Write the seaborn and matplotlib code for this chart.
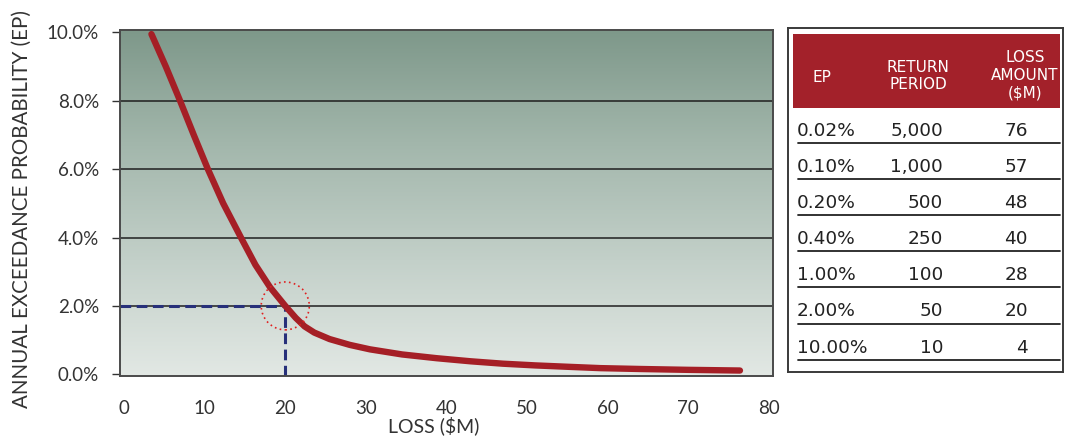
import numpy as np
import pandas as pd
import matplotlib
matplotlib.use("Agg")
import matplotlib.pyplot as plt
import seaborn as sns
from matplotlib.patches import Ellipse, Rectangle
from matplotlib.colors import LinearSegmentedColormap

# ---- data ----
curve_loss = [3.4, 5.2, 6.95, 8.65, 10.4, 12.3, 14.5, 16.3, 18.1, 20.0, 21.3, 22.4,
              23.6, 25.5, 28.0, 30.5, 34.5, 38.8, 43.0, 47.0, 51.0, 55.0, 59.1,
              64.0, 70.0, 76.4]
curve_ep = [9.95, 8.99, 8.0, 7.0, 6.0, 5.0, 4.0, 3.2, 2.55, 2.0, 1.65, 1.4,
            1.22, 1.03, 0.86, 0.73, 0.58, 0.47, 0.38, 0.31, 0.26, 0.22, 0.18,
            0.155, 0.13, 0.11]

highlight_loss = 20
highlight_ep = 2.0

x_ticks = [0, 10, 20, 30, 40, 50, 60, 70, 80]
y_ticks = [0, 2, 4, 6, 8, 10]
grid_levels = [2, 4, 6, 8]

table_headers = ["EP", "RETURN\nPERIOD", "LOSS\nAMOUNT\n($M)"]
table_ep = ["0.02%", "0.10%", "0.20%", "0.40%", "1.00%", "2.00%", "10.00%"]
table_rp = ["5,000", "1,000", "500", "250", "100", "50", "10"]
table_loss = [76, 57, 48, 40, 28, 20, 4]

# ---- style ----
sns.set_theme(style="white")
plt.rcParams["font.family"] = ["Lato", "DejaVu Sans"]

W, H = 1068, 445
fig = plt.figure(figsize=(W / 100, H / 100), dpi=100)
fig.patch.set_facecolor("white")

ax = fig.add_axes([120 / W, (H - 376) / H, (773 - 120) / W, (376 - 30) / H])
xlim = (-0.5, 80.5)
ylim = (-0.05, 10.07)
ax.set_xlim(*xlim)
ax.set_ylim(*ylim)

# gradient background
cmap = LinearSegmentedColormap.from_list(
    "bg", ["#e2e8e4", "#c3d0c9", "#a3b7ac", "#7e988a"])
grad = np.linspace(0, 1, 256).reshape(-1, 1)
ax.imshow(grad, cmap=cmap, origin="lower", aspect="auto",
          extent=[xlim[0], xlim[1], ylim[0], ylim[1]], zorder=0)

for g in grid_levels:
    ax.axhline(g, color="#1f1f1f", lw=1.1, zorder=1)

# dashed guide lines
ax.plot([xlim[0], highlight_loss], [highlight_ep, highlight_ep], color="#27307a",
        lw=2.2, dashes=(3.5, 1.8), zorder=2)
ax.plot([highlight_loss, highlight_loss], [ylim[0], highlight_ep], color="#27307a",
        lw=2.2, dashes=(3.5, 1.8), zorder=2)

df = pd.DataFrame({"loss": curve_loss, "ep": curve_ep})
sns.lineplot(data=df, x="loss", y="ep", ax=ax, color="#a51f26", lw=4.6,
             sort=False, zorder=3, solid_capstyle="round", solid_joinstyle="round")

# dotted red circle (48 px diameter)
ax.add_patch(Ellipse((highlight_loss, highlight_ep), width=48 / 8.06, height=48 / 34.25,
                     fill=False, edgecolor="#e02020", lw=1.2, ls=(0, (1, 2)), zorder=4))

ax.set_xticks(x_ticks)
ax.set_yticks(y_ticks)
ax.set_yticklabels([f"{v:.1f}%" for v in y_ticks])
ax.tick_params(axis="y", length=6, width=1.0, color="#333333", direction="out",
               pad=9, labelsize=13.5, labelcolor="#333333", left=True)
ax.tick_params(axis="x", length=0, pad=17, labelsize=13.5, labelcolor="#333333")
for s in ax.spines.values():
    s.set_color("#4a4a4a")
    s.set_linewidth(1.4)
    s.set_zorder(5)

ax.set_xlabel("LOSS ($M)", fontsize=14, color="#333333")
ax.set_ylabel("ANNUAL EXCEEDANCE PROBABILITY (EP)", fontsize=14.8, color="#333333")
ax.xaxis.set_label_coords((434 - 120) / 653, (376 - 416) / 346)
ax.yaxis.set_label_coords((32 - 120) / 653, (376 - 209) / 346)

# ---- table ----
tx = fig.add_axes([788 / W, (H - 372) / H, (1063 - 788) / W, (372 - 28) / H])
tx.set_xlim(788, 1063)
tx.set_ylim(372, 28)
tx.set_xticks([])
tx.set_yticks([])
tx.set_facecolor("white")
for s in tx.spines.values():
    s.set_color("#3a3a3a")
    s.set_linewidth(1.4)

tx.add_patch(Rectangle((793, 34), 1060 - 793, 108 - 34, facecolor="#a3212a",
                       edgecolor="none"))
hdr_x = [822, 918, 1025]
hdr_y = [77, 76, 75]
for hx, hy, txt in zip(hdr_x, hdr_y, table_headers):
    tx.text(hx, hy, txt, ha="center", va="center", color="white", fontsize=11,
            linespacing=1.22, multialignment="center", family="DejaVu Sans")

row_h = 36.1
for i, (e, r, l) in enumerate(zip(table_ep, table_rp, table_loss)):
    cy = 131 + row_h * i
    kw = dict(va="center", fontsize=13.3, color="#222222", family="DejaVu Sans")
    tx.text(797, cy, e, ha="left", **kw)
    tx.text(943, cy, r, ha="right", **kw)
    tx.text(1028, cy, str(l), ha="right", **kw)
    tx.plot([798, 1060], [cy + 12, cy + 12], color="#222222", lw=1.3)

fig.savefig("out.png", dpi=100)
